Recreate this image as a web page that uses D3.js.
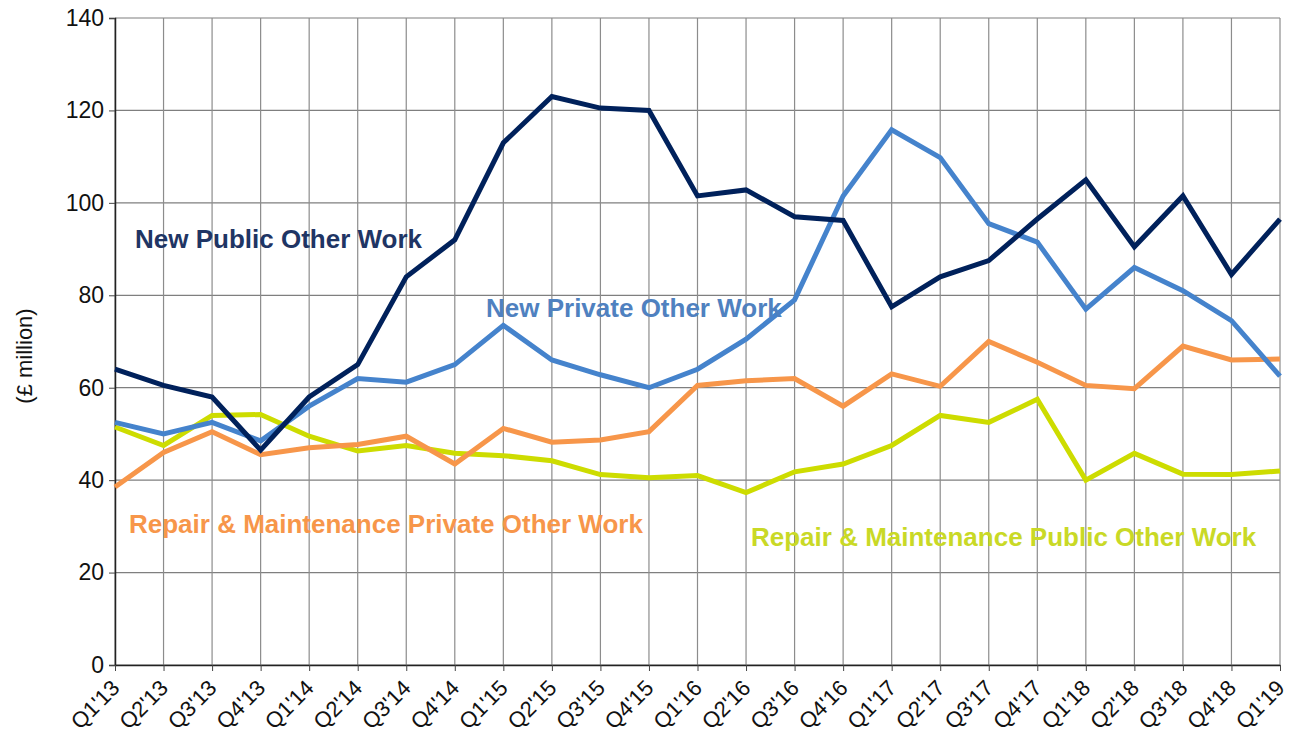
<!DOCTYPE html>
<html>
<head>
<meta charset="utf-8">
<script src="https://cdnjs.cloudflare.com/ajax/libs/d3/7.8.5/d3.min.js"></script>
<style>
  body { margin: 0; background: #fff; }
  svg text { font-family: "Liberation Sans", Arial, sans-serif; }
</style>
</head>
<body>
<div id="chart"></div>
<script>
const quarters = ["Q1'13","Q2'13","Q3'13","Q4'13","Q1'14","Q2'14","Q3'14","Q4'14",
  "Q1'15","Q2'15","Q3'15","Q4'15","Q1'16","Q2'16","Q3'16","Q4'16",
  "Q1'17","Q2'17","Q3'17","Q4'17","Q1'18","Q2'18","Q3'18","Q4'18","Q1'19"];

const newPublic = [64, 60.5, 58, 46.5, 58, 65, 84, 92, 113, 123, 120.5, 120,
  101.5, 102.8, 97, 96.2, 77.5, 84, 87.5, 96.5, 105, 90.5, 101.5, 84.5, 96.5];
const newPrivate = [52.5, 50, 52.5, 48.5, 56, 62, 61.2, 65, 73.5, 66, 62.8, 60,
  64, 70.5, 79, 101.5, 115.8, 109.8, 95.5, 91.5, 77, 86, 81, 74.5, 62.5];
const rmPrivate = [38.5, 46, 50.5, 45.5, 47, 47.7, 49.5, 43.5, 51.2, 48.2, 48.7, 50.5,
  60.5, 61.5, 62, 56, 63, 60.3, 70, 65.5, 60.5, 59.8, 69, 66, 66.2];
const rmPublic = [51.5, 47.5, 54, 54.2, 49.5, 46.3, 47.5, 45.8, 45.3, 44.2, 41.2, 40.5,
  41, 37.3, 41.8, 43.5, 47.5, 54, 52.5, 57.5, 40, 45.8, 41.3, 41.2, 42];

const yTicks = [0, 20, 40, 60, 80, 100, 120, 140];

const series = [
  {name: "Repair & Maintenance Public Other Work", values: rmPublic, color: "#cddc00", labelColor: "#c9d926", lx: 751, ly: 546},
  {name: "Repair & Maintenance Private Other Work", values: rmPrivate, color: "#f7964a", labelColor: "#f7964a", lx: 129, ly: 533},
  {name: "New Private Other Work", values: newPrivate, color: "#4583cc", labelColor: "#4f81c0", lx: 486, ly: 317},
  {name: "New Public Other Work", values: newPublic, color: "#00215b", labelColor: "#1f3564", lx: 135, ly: 248}
];

const width = 1294, height = 733;
const margin = {top: 18, right: 14, bottom: 68, left: 115};

const svg = d3.select("#chart").append("svg")
    .attr("width", width)
    .attr("height", height);

const x = d3.scalePoint()
    .domain(quarters)
    .range([margin.left, width - margin.right]);
const y = d3.scaleLinear()
    .domain([0, 140])
    .range([height - margin.bottom, margin.top]);

// grid
svg.append("g")
    .selectAll("line")
    .data(yTicks)
    .enter().append("line")
    .attr("x1", margin.left).attr("x2", width - margin.right)
    .attr("y1", d => y(d)).attr("y2", d => y(d))
    .attr("stroke", "#7f7f7f").attr("stroke-width", 1.2);
svg.append("g")
    .selectAll("line")
    .data(quarters)
    .enter().append("line")
    .attr("x1", d => x(d)).attr("x2", d => x(d))
    .attr("y1", margin.top).attr("y2", height - margin.bottom)
    .attr("stroke", "#8c8c8c").attr("stroke-width", 1.2);

// axes
const yAxis = svg.append("g")
    .attr("transform", `translate(${margin.left},0)`)
    .call(d3.axisLeft(y).tickValues(yTicks).tickSize(6).tickPadding(5));
yAxis.select(".domain").attr("stroke", "#222").attr("stroke-width", 1.5);
yAxis.selectAll(".tick line").attr("stroke", "#444");
yAxis.selectAll("text").attr("font-size", 23).attr("fill", "#111");

const xAxis = svg.append("g")
    .attr("transform", `translate(0,${height - margin.bottom})`)
    .call(d3.axisBottom(x).tickSize(6).tickSizeOuter(0));
xAxis.select(".domain").attr("stroke", "#222").attr("stroke-width", 1.5);
xAxis.selectAll(".tick line").attr("stroke", "#444");
xAxis.selectAll("text")
    .attr("font-size", 22)
    .attr("fill", "#111")
    .attr("text-anchor", "end")
    .attr("y", 0)
    .attr("dy", "0.35em")
    .attr("transform", "translate(0,19) rotate(-45)");

svg.append("text")
    .attr("transform", "translate(32,356) rotate(-90)")
    .attr("text-anchor", "middle")
    .attr("font-size", 22)
    .attr("fill", "#111")
    .text("(£ million)");

// lines
const line = d3.line()
    .x((d, i) => x(quarters[i]))
    .y(d => y(d));

svg.append("g")
    .selectAll("path")
    .data(series)
    .enter().append("path")
    .attr("d", d => line(d.values))
    .attr("fill", "none")
    .attr("stroke", d => d.color)
    .attr("stroke-width", 5)
    .attr("stroke-linejoin", "miter");

svg.append("g")
    .selectAll("text")
    .data(series)
    .enter().append("text")
    .attr("x", d => d.lx)
    .attr("y", d => d.ly)
    .attr("font-size", 26)
    .attr("font-weight", "bold")
    .attr("fill", d => d.labelColor)
    .text(d => d.name);
</script>
</body>
</html>
